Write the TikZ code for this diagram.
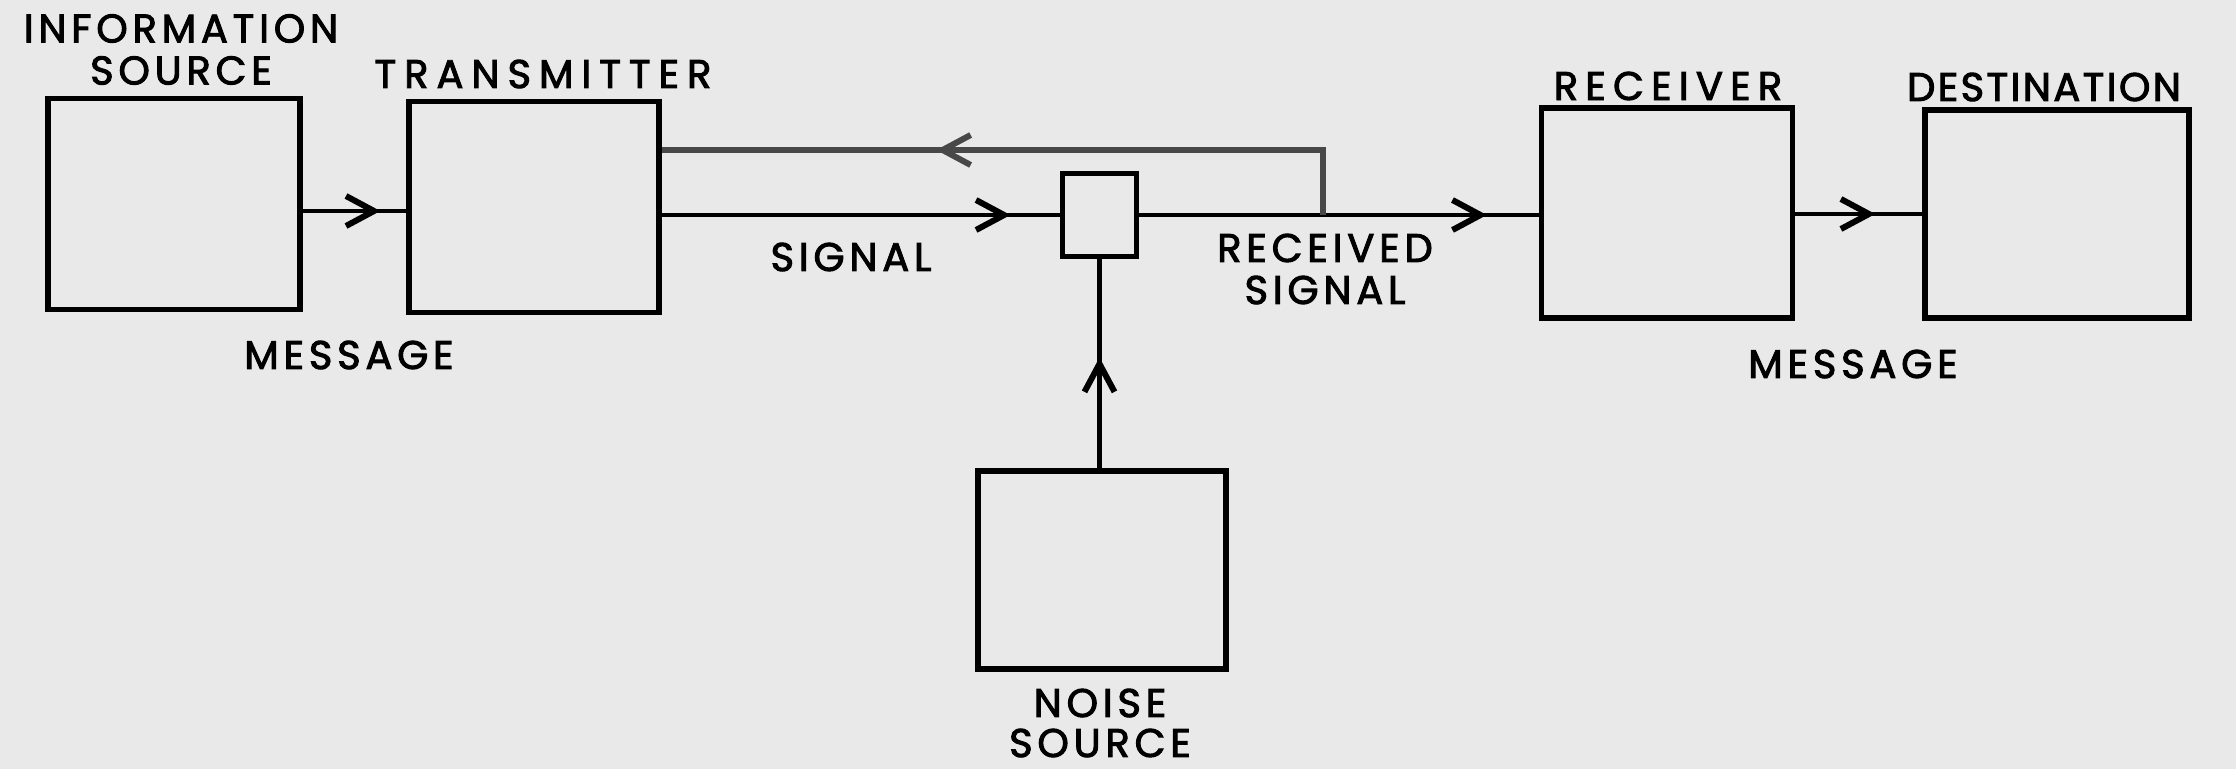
\documentclass[tikz,border=0pt]{standalone}
\usepackage{fontspec}
\setmainfont{Poppins}[LetterSpace=12, FakeBold=2.4]
\usetikzlibrary{arrows.meta,decorations.markings}
\definecolor{bgc}{RGB}{232,233,232}
\definecolor{darkfb}{RGB}{72,72,72}
\tikzset{
  blk/.style={draw=black, line width=5.5pt, inner sep=0pt, rectangle},
  wire/.style={line width=4.5pt, draw=black},
  fbwire/.style={line width=6pt, draw=darkfb},
  lbl/.style={font=\fontsize{40}{42}\selectfont, align=center, inner sep=0pt, text=black},
  midarrow/.style={postaction={decorate, decoration={markings,
      mark=at position #1 with {\arrow{Straight Barb[length=28pt,width=30pt,line width=6pt]}}}}}
}
\begin{document}
\begin{tikzpicture}[x=1pt,y=-1pt]
\fill[bgc] (0,0) rectangle (2236,769);
\useasboundingbox (0,0) rectangle (2236,769);
% boxes
\node[blk, minimum width=252pt, minimum height=211pt] (src) at (174,204) {};
\node[blk, minimum width=250pt, minimum height=211pt] (tx) at (534,207) {};
\node[blk, minimum width=74pt, minimum height=83pt] (small) at (1099.5,215) {};
\node[blk, minimum width=248pt, minimum height=198pt] (noise) at (1102,570) {};
\node[blk, minimum width=251pt, minimum height=210pt] (rx) at (1667,213) {};
\node[blk, minimum width=264pt, minimum height=208pt] (dst) at (2057,214) {};
\coordinate (jn) at (1323,214);
% connectors
\draw[wire, midarrow=0.75] (src.east |- 0,211) -- (tx.west |- 0,211);
\draw[wire, midarrow=0.876] (tx.east |- small.west) -- (small.west);
\draw[wire, midarrow=0.87] (small.east) -- (rx.west |- small.east);
\draw[fbwire, midarrow=0.622] (jn |- small.east) -- (jn |- 0,150) -- (tx.east |- 0,150);
\draw[wire, midarrow=0.53] (small.south |- noise.north) -- (small.south);
\draw[wire, midarrow=0.63] (rx.east |- 0,214) -- (dst.west |- 0,214);
% labels
\node[lbl] (lsrc) at (181,49.5) {INFORMATION\\SOURCE};
\node[lbl] (ltx) at (543,74) {\addfontfeatures{LetterSpace=20}TRANSMITTER};
\node[lbl] (lmsg1) at (349,355) {MESSAGE};
\node[lbl] (lsig) at (851,257) {SIGNAL};
\node[lbl] (lrs) at (1325,269) {RECEIVED\\SIGNAL};
\node[lbl] (lrx) at (1668,86) {\addfontfeatures{LetterSpace=18}RECEIVER};
\node[lbl] (ldst) at (2044,87) {\addfontfeatures{LetterSpace=6}DESTINATION};
\node[lbl] (lmsg2) at (1853,364) {MESSAGE};
\node[lbl, font=\fontsize{40}{40}\selectfont] (lns) at (1100,723) {NOISE\\SOURCE};
\end{tikzpicture}
\end{document}
